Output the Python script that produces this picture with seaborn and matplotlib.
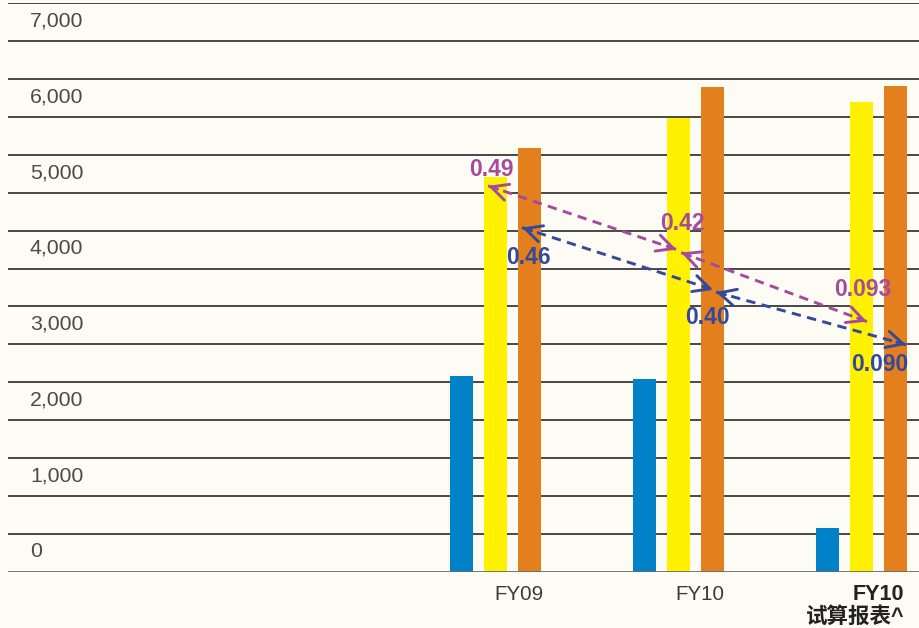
import matplotlib
matplotlib.use("Agg")
import matplotlib.pyplot as plt
import matplotlib.transforms as mtransforms
import seaborn as sns
import pandas as pd

# ---- data -------------------------------------------------------------
periods = ["FY09", "FY10", "FY10 试算"]
series = ["A", "B", "C"]
values_a = [2580, 2550, 585]      # blue
values_b = [5200, 5990, 6200]     # yellow
values_c = [5590, 6390, 6410]     # orange
tick_labels = ["FY09", "FY10", "FY10\n试算报表^"]
y_labels = [0, 1000, 2000, 3000, 4000, 5000, 6000, 7000]

# ratio annotations (values drawn next to the dashed arrows)
ratio_b = ["0.49", "0.42", "0.093"]   # linked to yellow series
ratio_c = ["0.46", "0.40", "0.090"]   # linked to orange series
ratio_b_y = [5300, 4600, 3720]
ratio_c_y = [4140, 3350, 2730]
ratio_b_dx = [-0.02, 0.02, 0.008]
ratio_c_dx = [0.18, 0.156, 0.10]
# arrow end points (group position + offset, value)
arrows_b = [((-0.04, 5090), (0.99, 4250)), ((1.015, 4210), (2.03, 3300))]
arrows_c = [((0.145, 4540), (1.19, 3720)), ((1.205, 3690), (2.245, 2995))]

colors = ["#0081C8", "#FFF100", "#E47F1E"]
purple = "#A64A9E"
navy = "#34499A"
bg = "#FDFCF4"

df = pd.DataFrame({
    "period": periods * 3,
    "series": [s for s in series for _ in periods],
    "value": values_a + values_b + values_c,
})

# ---- figure -----------------------------------------------------------
W, H = 920, 628
fig = plt.figure(figsize=(W / 100, H / 100), dpi=100, facecolor=bg)
ax = fig.add_axes([8 / W, (H - 572) / H, (W - 8) / W, (572 - 3) / H])
ax.set_facecolor(bg)

sns.barplot(data=df, x="period", y="value", hue="series", order=periods,
            hue_order=series, palette=colors, width=0.557, gap=0.32,
            legend=False, saturation=1, ax=ax, edgecolor="none", zorder=3)

ax.set_ylim(0, 7500)
ax.set_xlim(-2.664, 2.32)
ax.set_xlabel("")
ax.set_ylabel("")

# horizontal rules every 500
for v in range(500, 7501, 500):
    ax.axhline(v, color="#3a3a3a", lw=1.3, zorder=1)
ax.axhline(0, color="#6a6a6a", lw=2.0, zorder=4)
for s in ax.spines.values():
    s.set_visible(False)
ax.set_yticks([])

# value labels sit just above each thousand rule
lab_tr = mtransforms.blended_transform_factory(ax.transAxes, ax.transData)
for v in y_labels:
    ax.text(22 / 912, v + 265, f"{v:,}", transform=lab_tr, ha="left",
            va="center", fontsize=15.3, color="#4a4a4a",
            family=["Liberation Sans", "DejaVu Sans"])

# category labels
ax.set_xticks([0.128, 1.117, 1.965])
ax.set_xticklabels(tick_labels)
ax.tick_params(axis="x", length=0, pad=9)
for i, t in enumerate(ax.get_xticklabels()):
    t.set_family(["Liberation Sans", "Noto Sans CJK SC"])
    t.set_fontsize(14.8)
    t.set_color("#3a3a3a")
    if i == 2:
        t.set_fontweight("bold")
        t.set_fontsize(15.5)
        t.set_multialignment("right")
        t.set_linespacing(1.1)
        t.set_color("#222222")

# dashed double-headed arrows with solid open heads
def dashed_arrow(p0, p1, color):
    (x0, y0), (x1, y1) = p0, p1
    ax.plot([x0, x1], [y0, y1], color=color, lw=2.1, ls=(0, (3.2, 2.2)),
            zorder=6, solid_capstyle="butt")
    for (tx, ty), (sx, sy) in (((x0, y0), (x1, y1)), ((x1, y1), (x0, y0))):
        fx = tx + (sx - tx) * 0.05
        fy = ty + (sy - ty) * 0.05
        ax.annotate("", xy=(tx, ty), xytext=(fx, fy),
                    arrowprops=dict(arrowstyle="->,head_length=1.2,head_width=0.6",
                                    color=color, lw=2.1, shrinkA=0, shrinkB=0),
                    zorder=6)

for p0, p1 in arrows_b:
    dashed_arrow(p0, p1, purple)
for p0, p1 in arrows_c:
    dashed_arrow(p0, p1, navy)

for i in range(3):
    ax.text(i + ratio_b_dx[i], ratio_b_y[i], ratio_b[i], color=purple,
            fontsize=16.5, fontweight="bold", ha="center", va="center",
            family=["Liberation Sans"], zorder=7)
    ax.text(i + ratio_c_dx[i], ratio_c_y[i], ratio_c[i], color=navy,
            fontsize=16.5, fontweight="bold", ha="center", va="center",
            family=["Liberation Sans"], zorder=7)

fig.savefig("out.png", dpi=100, facecolor=bg)
